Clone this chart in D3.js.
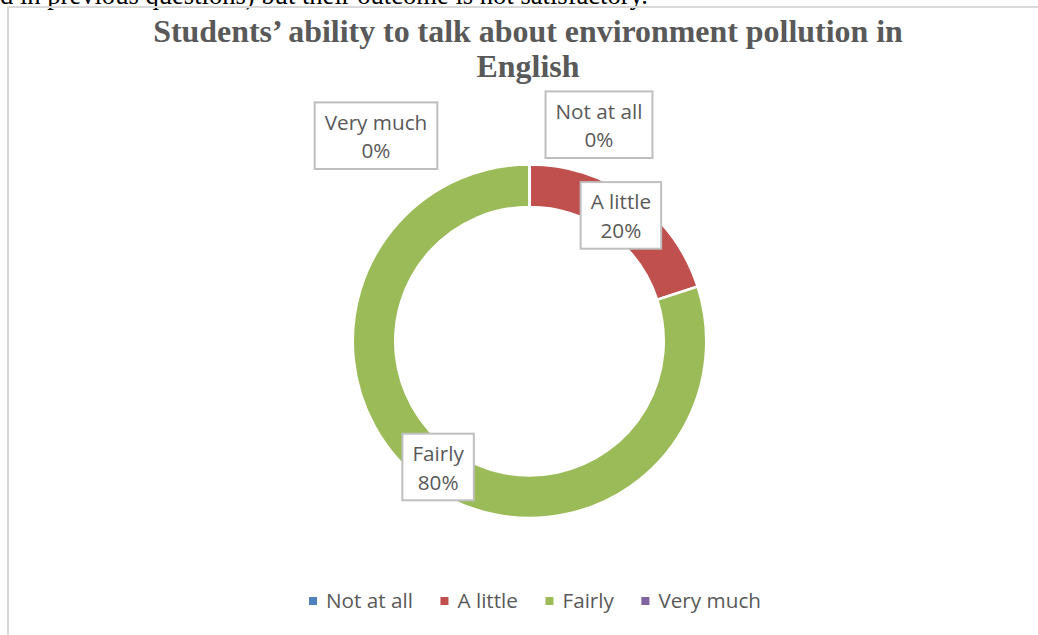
<!DOCTYPE html>
<html><head><meta charset="utf-8">
<script src="https://cdn.jsdelivr.net/npm/d3@7"></script>
<style>html,body{margin:0;padding:0;background:#fff;overflow:hidden}</style>
</head><body><svg id="c" width="1038" height="635"></svg>
<script>
// ---- data ----
const categories = ["Not at all", "A little", "Fairly", "Very much"];
const values = [0, 20, 80, 0];
const colors = ["#4F81BD", "#C0504D", "#9BBB59", "#8064A2"];
const titleLines = ["Students’ ability to talk about environment pollution in", "English"];
const pageText = "d in previous questions) but their outcome is not satisfactory.";

// ---- layout ----
const W = 1038, H = 635;
const cx = 529.5, cy = 341.2, rOut = 176.8, rIn = 134.2;
const labelFont = "'Open Sans', Lato, sans-serif";
const svg = d3.select("#c");

// fit label font so that "Not at all" spans ~87px (as in reference)
const probe = svg.append("text").attr("font-family", labelFont).attr("font-size", 20).text(categories[0]);
const lfs = 20 * 87 / probe.node().getComputedTextLength();
probe.remove();

// page text clipped at top
const pt = svg.append("text").attr("x", 0).attr("y", 4)
  .attr("font-family", "'Liberation Serif', 'Times New Roman', serif")
  .attr("font-size", 21).attr("fill", "#000").text(pageText);
{ const w = pt.node().getComputedTextLength(); pt.attr("font-size", 21 * 648 / w); }

// chart border
svg.append("line").attr("x1", 7).attr("x2", W).attr("y1", 7).attr("y2", 7)
  .attr("stroke", "#d9d9d9").attr("stroke-width", 2);
svg.append("line").attr("x1", 8).attr("x2", 8).attr("y1", 6).attr("y2", H)
  .attr("stroke", "#d9d9d9").attr("stroke-width", 2);

// title
const titleG = svg.append("g").attr("font-family", "'Liberation Serif', 'Times New Roman', serif")
  .attr("font-weight", "bold").attr("fill", "#595959").attr("text-anchor", "middle");
const t1 = titleG.append("text").attr("x", 528).attr("y", 42).attr("font-size", 28).text(titleLines[0]);
let tfs = 28 * 750 / t1.node().getComputedTextLength();
t1.attr("font-size", tfs);
titleG.append("text").attr("x", 528).attr("y", 77).attr("font-size", tfs).text(titleLines[1]);

// donut
const pie = d3.pie().sort(null).value(d => d).startAngle(0).endAngle(2 * Math.PI);
const arcs = pie(values);
const arc = d3.arc().innerRadius(rIn).outerRadius(rOut);
const g = svg.append("g").attr("transform", `translate(${cx},${cy})`);
g.selectAll("path").data(arcs).join("path")
  .attr("d", arc).attr("fill", (d, i) => colors[i])
  .attr("stroke", "#fff").attr("stroke-width", 2.6);

// data labels
const labelArc = d3.arc().innerRadius((rIn + rOut) / 2).outerRadius((rIn + rOut) / 2);
const fmt = d3.format(".0%");
const total = d3.sum(values);
arcs.forEach((d, i) => {
  let [x, y] = labelArc.centroid(d);
  if (d.value === 0) {
    // zero-size slices: best-fit outside the ring, right for first / left for last
    if (i === 0) { x += 69.5; y -= 61; } else { x -= 153.5; y -= 50; }
  }
  const lg = g.append("g").attr("transform", `translate(${x},${y})`);
  const rect = lg.append("rect");
  const tA = lg.append("text").attr("text-anchor", "middle").attr("y", -6)
    .attr("font-family", labelFont).attr("font-size", lfs).attr("fill", "#595959").text(categories[i]);
  const tB = lg.append("text").attr("text-anchor", "middle").attr("y", 22.5)
    .attr("font-family", labelFont).attr("font-size", lfs).attr("fill", "#595959").text(fmt(d.value / total));
  const bw = Math.max(tA.node().getComputedTextLength(), tB.node().getComputedTextLength()) + 20;
  const bh = 66.6;
  rect.attr("x", -bw / 2).attr("y", -bh / 2).attr("width", bw).attr("height", bh)
    .attr("fill", "#fff").attr("stroke", "#bfbfbf").attr("stroke-width", 2);
});

// legend
const leg = svg.append("g");
const items = leg.selectAll("g").data(categories).join("g");
items.append("rect").attr("width", 8).attr("height", 8).attr("y", 597).attr("fill", (d, i) => colors[i]);
items.append("text").attr("x", 17).attr("y", 607.5).attr("font-family", labelFont)
  .attr("font-size", lfs).attr("fill", "#595959").text(d => d);
let xPos = 0;
const offs = [];
items.each(function () {
  offs.push(xPos);
  const w = d3.select(this).select("text").node().getComputedTextLength();
  xPos += 17 + w + 27.5;
});
const totalW = xPos - 27.5;
const startX = 535 - totalW / 2;
items.attr("transform", (d, i) => `translate(${startX + offs[i]},0)`);
</script></body></html>
